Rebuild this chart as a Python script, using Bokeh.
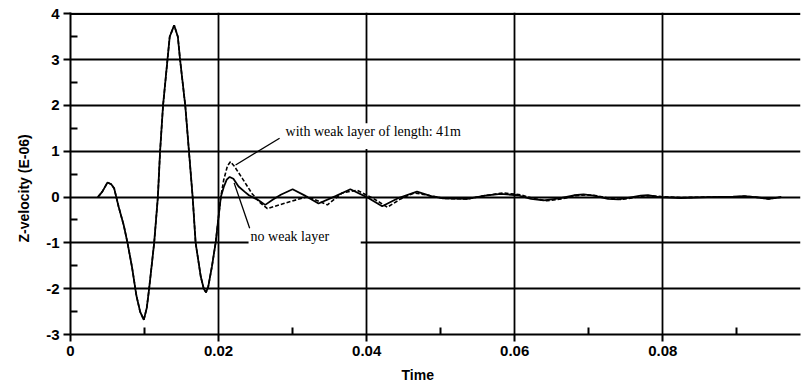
from bokeh.plotting import figure
from bokeh.models import Range1d, FixedTicker, Label, BoxAnnotation, Span, Title
from bokeh.embed import file_html
from bokeh.resources import INLINE

# ---- data ----
t_common = [0.0037, 0.0043, 0.0050, 0.0055, 0.0059, 0.0065, 0.0072, 0.0077, 0.0083,
            0.0089, 0.0094, 0.0099, 0.0103, 0.0106, 0.0113, 0.0118, 0.0121, 0.0125,
            0.0131, 0.0134, 0.0140, 0.0145, 0.0148, 0.0155, 0.0160, 0.0165, 0.0169,
            0.0176, 0.0180, 0.0183, 0.0186, 0.0191, 0.0196, 0.0203]
v_common = [0.0, 0.12, 0.32, 0.28, 0.19, -0.21, -0.62, -1.0, -1.52,
            -2.15, -2.5, -2.68, -2.42, -2.03, -1.0, 0.0, 1.0, 2.0,
            3.0, 3.5, 3.75, 3.5, 3.0, 2.0, 1.0, 0.0, -1.0,
            -1.74, -2.0, -2.08, -1.96, -1.52, -1.0, 0.0]

t_no = [0.0207, 0.0211, 0.0215, 0.0220, 0.0227, 0.0235, 0.0241, 0.0254, 0.0263,
        0.0273, 0.0284, 0.0300, 0.0318, 0.0335, 0.0358, 0.0378, 0.0400, 0.0421,
        0.0443, 0.0468, 0.0487, 0.0504,
        0.0536, 0.0560, 0.0581, 0.0604, 0.0622, 0.0639, 0.0660, 0.0680, 0.0693,
        0.0707, 0.0726, 0.0740, 0.0755, 0.0770, 0.0780, 0.0795, 0.0824, 0.0860,
        0.0895, 0.0910, 0.0925, 0.0943, 0.0960]
v_no = [0.22, 0.38, 0.44, 0.40, 0.23, 0.12, 0.04, -0.07, -0.17,
        -0.06, 0.05, 0.17, 0.02, -0.14, 0.02, 0.17, 0.0, -0.20,
        -0.02, 0.12, 0.02, -0.03,
        -0.04, 0.03, 0.07, 0.04, -0.04, -0.07, -0.03, 0.04, 0.06,
        0.03, -0.04, -0.05, -0.01, 0.03, 0.04, 0.0, -0.02, 0.0,
        0.01, 0.02, 0.0, -0.04, 0.0]

t_weak = [0.0207, 0.0212, 0.0216, 0.0221, 0.0232, 0.0245, 0.0256, 0.0266, 0.0288,
          0.0320, 0.0347, 0.0367, 0.0387, 0.0408, 0.0428, 0.0446, 0.0464, 0.0480,
          0.0504,
          0.0536, 0.0562, 0.0585, 0.0608, 0.0625, 0.0643, 0.0663, 0.0683, 0.0697,
          0.0711, 0.0729, 0.0743, 0.0758, 0.0772, 0.0783, 0.0798, 0.0824, 0.0860,
          0.0895, 0.0910, 0.0925, 0.0943, 0.0960]
v_weak = [0.38, 0.68, 0.77, 0.68, 0.41, 0.08, -0.12, -0.25, -0.14,
          0.01, -0.17, 0.09, 0.15, -0.02, -0.22, -0.04, 0.09, 0.05,
          -0.03,
          -0.04, 0.04, 0.09, 0.05, -0.03, -0.08, -0.04, 0.03, 0.05,
          0.03, -0.03, -0.05, -0.02, 0.02, 0.03, 0.01, -0.01, 0.0,
          0.0, 0.02, 0.0, -0.04, 0.0]

x_ticks = [0, 0.02, 0.04, 0.06, 0.08]
x_minor = [0.01, 0.03, 0.05, 0.07, 0.09]
x_labels = {0: "0", 0.02: "0.02", 0.04: "0.04", 0.06: "0.06", 0.08: "0.08"}
y_ticks = [-3, -2, -1, 0, 1, 2, 3, 4]
y_minor = [-2.5, -1.5, -0.5, 0.5, 1.5, 2.5, 3.5]
y_labels = {-3: "-3", -2: "-2", -1: "-1", 0: "0", 1: "1", 2: "2", 3: "3", 4: "4"}

label_weak = "with weak layer of length: 41m"
label_no = "no weak layer"
label_weak_pos = (0.02905, 1.44)
label_no_pos = (0.02432, -0.87)
leader_weak_t = [0.02824, 0.0223]
leader_weak_v = [1.285, 0.70]
leader_no_t = [0.0221, 0.0242]
leader_no_v = [0.31, -0.68]

# ---- figure ----
p = figure(width=801, height=388, x_range=Range1d(0, 0.0986), y_range=Range1d(-3, 4.03),
           output_backend="svg", toolbar_location=None,
           min_border_left=70, min_border_right=1, min_border_top=12, min_border_bottom=54)
p.outline_line_color = None
p.background_fill_color = "white"

# grid
p.xgrid.ticker = FixedTicker(ticks=[0.02, 0.04, 0.06, 0.08])
p.ygrid.ticker = FixedTicker(ticks=[-2, -1, 0, 1, 2, 3])
for g in (p.xgrid, p.ygrid):
    g.grid_line_color = "black"
    g.grid_line_width = 1.8
    g.grid_line_alpha = 1.0
p.add_layout(Span(location=4, dimension="width", line_color="black", line_width=2.4))

# axes
p.xaxis.ticker = FixedTicker(ticks=x_ticks, minor_ticks=x_minor)
p.xaxis.major_label_overrides = x_labels
p.yaxis.ticker = FixedTicker(ticks=y_ticks, minor_ticks=y_minor)
p.yaxis.major_label_overrides = y_labels
for ax in (p.xaxis, p.yaxis):
    ax.axis_line_color = "black"
    ax.axis_line_width = 2
    ax.major_tick_line_color = "black"
    ax.major_tick_line_width = 2
    ax.major_tick_out = 7
    ax.major_tick_in = 0
    ax.minor_tick_line_color = "black"
    ax.minor_tick_line_width = 2
    ax.minor_tick_in = 7
    ax.minor_tick_out = 0
    ax.major_label_text_font = "Liberation Sans"
    ax.major_label_text_font_style = "bold"
    ax.major_label_text_font_size = "15px"
    ax.major_label_text_color = "black"
p.yaxis.major_label_standoff = 4
p.xaxis.major_label_standoff = 4

# axis titles
xt = Title(text="Time", align="left", offset=331, standoff=12, text_color="black",
           text_font="Liberation Sans", text_font_style="bold", text_font_size="14px")
p.add_layout(xt, "below")
yt = Title(text="Z-velocity (E-06)", align="left", offset=92, standoff=24, text_color="black",
           text_font="Liberation Sans", text_font_style="bold", text_font_size="14px")
p.add_layout(yt, "left")

# curves
p.line(t_common + t_weak, v_common + v_weak, line_color="black", line_width=1.6,
       line_dash="4 2")
p.line(t_common + t_no, v_common + v_no, line_color="black", line_width=1.8)

# annotations
p.line(leader_weak_t, leader_weak_v, line_color="black", line_width=1.3)
p.line(leader_no_t, leader_no_v, line_color="black", line_width=1.3)
p.add_layout(BoxAnnotation(left=0.0287, right=0.0544, bottom=1.05, top=1.61,
                           fill_color="white", fill_alpha=1, line_color=None))
p.add_layout(BoxAnnotation(left=0.02405, right=0.0392, bottom=-1.1, top=-0.75,
                           fill_color="white", fill_alpha=1, line_color=None))
p.add_layout(Label(x=label_weak_pos[0], y=label_weak_pos[1], text=label_weak,
                   text_font="Liberation Serif", text_font_size="14px",
                   text_baseline="middle", text_color="black"))
p.add_layout(Label(x=label_no_pos[0], y=label_no_pos[1], text=label_no,
                   text_font="Liberation Serif", text_font_size="14px",
                   text_baseline="middle", text_color="black"))

open("out.html", "w").write(file_html(p, INLINE))
